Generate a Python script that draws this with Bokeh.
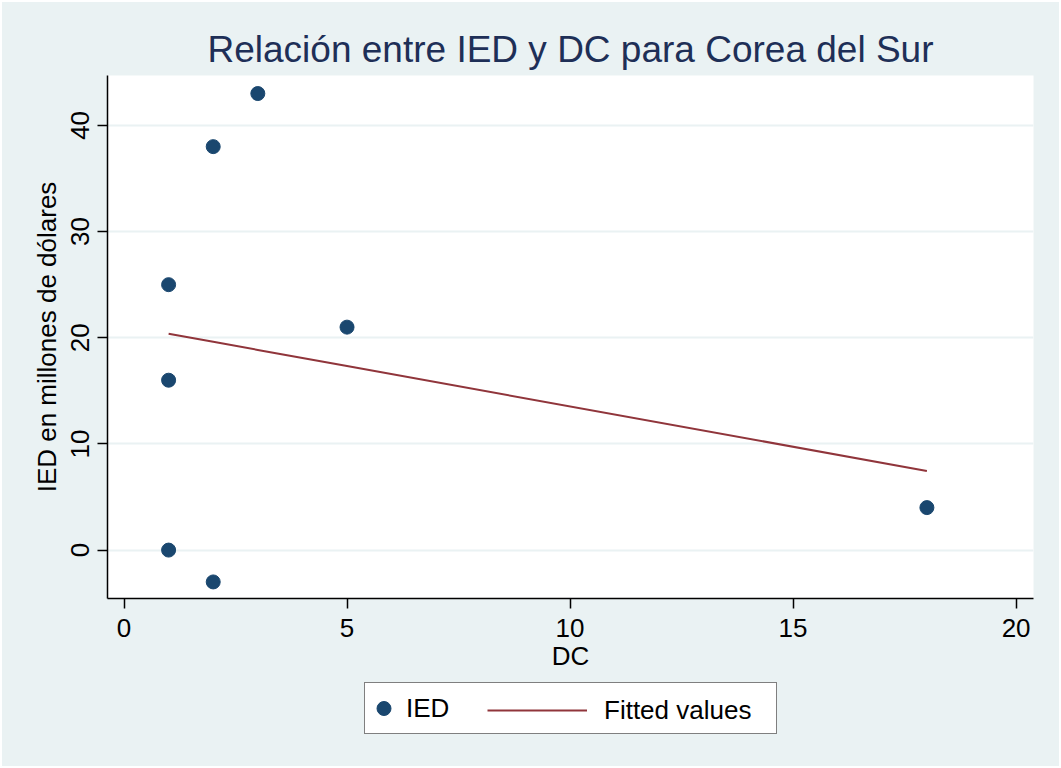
import numpy as np
from bokeh.plotting import figure
from bokeh.layouts import column
from bokeh.models import Range1d, FixedTicker, Title, Legend, LegendItem
from bokeh.embed import file_html
from bokeh.resources import INLINE

# Data
dc = [1, 1, 1, 2, 2, 3, 5, 18]
ied = [25, 16, 0, 38, -3, 43, 21, 4]
x_ticks = [0, 5, 10, 15, 20]
y_ticks = [0, 10, 20, 30, 40]
title_text = "Relación entre IED y DC para Corea del Sur"
x_label = "DC"
y_label = "IED en millones de dólares"
series_names = ["IED", "Fitted values"]

# Linear fit (fitted values)
slope, intercept = np.polyfit(dc, ied, 1)
fit_x = sorted(set(dc))
fit_y = [slope * v + intercept for v in fit_x]

BG = "#EAF2F3"
FONT = "Liberation Sans"
NAVY = "#1A476F"
MAROON = "#90353B"

W = 1057
BL, BR = 105, 26
p = figure(width=W, height=678, output_backend="svg", toolbar_location=None,
           x_range=Range1d(-0.37, 20.39), y_range=Range1d(-4.56, 44.7),
           min_border_left=BL, min_border_right=BR, min_border_top=73, min_border_bottom=82,
           background_fill_color="white", border_fill_color=BG, outline_line_color=None)

p.add_layout(Title(text=title_text, align="center", text_font=FONT, text_font_size="37px",
                   text_font_style="normal", text_color="#1E2F57", standoff=11), "above")

sc = p.scatter(dc, ied, size=14, color=NAVY, line_color=NAVY)
ln = p.line(fit_x, fit_y, line_width=2, line_color=MAROON)

for ax in (p.xaxis[0], p.yaxis[0]):
    ax.axis_line_color = "black"
    ax.axis_line_width = 1.5
    ax.major_tick_line_color = "black"
    ax.major_tick_line_width = 1.5
    ax.major_tick_out = 10
    ax.major_tick_in = 0
    ax.minor_tick_line_color = None
    ax.major_label_text_font = FONT
    ax.major_label_text_font_size = "26px"
    ax.major_label_text_color = "black"
    ax.axis_label_text_font = FONT
    ax.axis_label_text_font_size = "26px"
    ax.axis_label_text_font_style = "normal"
    ax.axis_label_text_color = "black"

p.xaxis.ticker = FixedTicker(ticks=x_ticks)
p.yaxis.ticker = FixedTicker(ticks=y_ticks)
p.xaxis.axis_label = x_label
p.yaxis.axis_label = y_label
p.yaxis.major_label_orientation = "vertical"
p.xaxis.major_label_standoff = 10
p.yaxis.major_label_standoff = 8
p.xaxis.axis_label_standoff = 1
p.yaxis.axis_label_standoff = 7

p.xgrid.visible = False
p.ygrid.grid_line_color = BG
p.ygrid.grid_line_width = 2

# Legend strip below the plot (frame aligned with the main plot's frame)
LH = 86
lf = figure(width=W, height=LH, output_backend="svg", toolbar_location=None,
            x_range=Range1d(0, W - BL - BR), y_range=Range1d(0, LH),
            x_axis_location=None, y_axis_location=None,
            min_border_left=BL, min_border_right=BR, min_border_top=0, min_border_bottom=0,
            background_fill_color=BG, border_fill_color=BG, outline_line_color=None)
lf.grid.visible = False
nan = float("nan")
key_sc = lf.scatter([nan], [nan], size=14, color=NAVY, line_color=NAVY)
key_ln = lf.line([nan, nan], [nan, nan], line_width=2, line_color=MAROON)

legA = Legend(items=[LegendItem(label=series_names[0], renderers=[key_sc])],
              location=(257, 32), orientation="horizontal", margin=0, padding=1,
              glyph_width=35, glyph_height=48, label_height=48, label_standoff=5,
              label_width=369, spacing=0,
              label_text_font=FONT, label_text_font_size="26px", label_text_color="black",
              border_line_color="black", border_line_width=1.5,
              background_fill_color="white", background_fill_alpha=1.0)
legB = Legend(items=[LegendItem(label=series_names[1], renderers=[key_ln])],
              location=(380, 32), orientation="horizontal", margin=0, padding=1,
              glyph_width=100, glyph_height=48, label_height=48, label_standoff=17,
              spacing=0,
              label_text_font=FONT, label_text_font_size="26px", label_text_color="black",
              border_line_color=None, background_fill_alpha=0.0)
lf.add_layout(legA)
lf.add_layout(legB)

layout = column(p, lf, spacing=0, margin=(2, 0, 0, 2), styles={"background-color": BG})
open("out.html", "w").write(file_html(layout, INLINE))
